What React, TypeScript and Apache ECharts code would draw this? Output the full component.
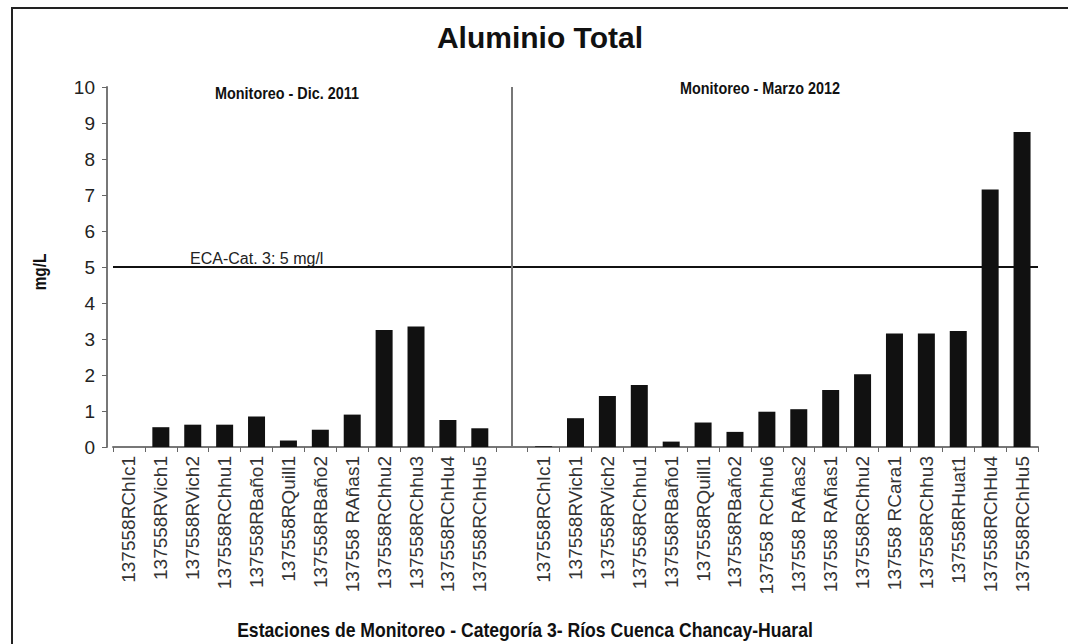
import React, { useEffect, useRef } from "react";
import * as echarts from "echarts";

const dec2011Stations = [
  "137558RChIc1", "137558RVich1", "137558RVich2", "137558RChhu1", "137558RBaño1", "137558RQuill1",
  "137558RBaño2", "137558 RAñas1", "137558RChhu2", "137558RChhu3", "137558RChHu4", "137558RChHu5",
];
const dec2011Values = [0, 0.55, 0.62, 0.62, 0.85, 0.18, 0.48, 0.9, 3.25, 3.35, 0.75, 0.52];

const mar2012Stations = [
  "137558RChIc1", "137558RVich1", "137558RVich2", "137558RChhu1", "137558RBaño1", "137558RQuill1",
  "137558RBaño2", "137558 RChhu6", "137558 RAñas2", "137558 RAñas1", "137558RChhu2", "137558 RCara1",
  "137558RChhu3", "137558RHuat1", "137558RChHu4", "137558RChHu5",
];
const mar2012Values = [0.02, 0.8, 1.42, 1.72, 0.15, 0.68, 0.42, 0.98, 1.05, 1.58, 2.02, 3.15, 3.15, 3.22, 7.15, 8.75];

const yTicks = [0, 1, 2, 3, 4, 5, 6, 7, 8, 9, 10];
const ecaLimit = 5;

const title = "Aluminio Total";
const period1 = "Monitoreo - Dic. 2011";
const period2 = "Monitoreo - Marzo 2012";
const ecaLabel = "ECA-Cat. 3: 5 mg/l";
const yName = "mg/L";
const xName = "Estaciones de Monitoreo - Categoría 3- Ríos Cuenca Chancay-Huaral";

const sans = "'Liberation Sans', Arial, sans-serif";

export default function App() {
  const ref = useRef<HTMLDivElement>(null);
  useEffect(() => {
    if (!ref.current) return;
    const chart = echarts.init(ref.current, undefined, { renderer: "svg" });
    const categories = [...dec2011Stations, "", ...mar2012Stations];
    const values: (number | null)[] = [...dec2011Values, null, ...mar2012Values];
    const dividerIndex = dec2011Stations.length;
    chart.setOption({
      animation: false,
      backgroundColor: "#ffffff",
      title: {
        text: title,
        left: 535,
        textAlign: "center",
        top: 17,
        textStyle: { fontFamily: sans, fontSize: 30, fontWeight: "bold", color: "#111" },
      },
      grid: { left: 113, right: 30, top: 87, bottom: 197, containLabel: false },
      xAxis: {
        type: "category",
        data: categories,
        axisLine: { lineStyle: { color: "#777", width: 2 } },
        axisTick: { show: true, lineStyle: { color: "#666" }, length: 5 },
        axisLabel: {
          rotate: 90,
          interval: 0,
          fontSize: 19,
          fontFamily: sans,
          color: "#333",
          margin: 9,
        },
      },
      yAxis: {
        type: "value",
        min: yTicks[0],
        max: yTicks[yTicks.length - 1],
        interval: 1,
        offset: 6,
        splitLine: { show: false },
        axisLine: { show: true, lineStyle: { color: "#777", width: 2 } },
        axisTick: { show: true, length: 5, lineStyle: { color: "#666" } },
        axisLabel: { fontSize: 19, fontFamily: sans, color: "#222", margin: 12 },
      },
      series: [
        {
          type: "bar",
          data: values,
          barWidth: 17,
          itemStyle: { color: "#111" },
          markLine: {
            silent: true,
            symbol: "none",
            label: { show: false },
            data: [
              { yAxis: ecaLimit, lineStyle: { color: "#111", width: 2, type: "solid" } },
              { xAxis: dividerIndex, lineStyle: { color: "#777", width: 2, type: "solid" } },
            ],
          },
        },
      ],
      graphic: [
        {
          type: "rect",
          shape: { x: 12, y: 8, width: 1070, height: 680 },
          style: { fill: "none", stroke: "#222", lineWidth: 2 },
          silent: true,
        },
        {
          type: "text",
          x: 215,
          y: 85,
          scaleX: 0.9,
          style: { text: period1, font: `bold 16px ${sans}`, fill: "#111" },
        },
        {
          type: "text",
          x: 680,
          y: 80,
          scaleX: 0.9,
          style: { text: period2, font: `bold 16px ${sans}`, fill: "#111" },
        },
        {
          type: "text",
          x: 190,
          y: 250,
          style: { text: ecaLabel, font: `16px ${sans}`, fill: "#222" },
        },
        {
          type: "text",
          x: 40,
          y: 272,
          rotation: Math.PI / 2,
          scaleX: 0.85,
          style: { text: yName, font: `bold 18px ${sans}`, fill: "#111", align: "center", verticalAlign: "middle" },
        },
        {
          type: "text",
          x: 525,
          y: 630,
          scaleX: 0.88,
          style: { text: xName, font: `bold 20px ${sans}`, fill: "#111", align: "center", verticalAlign: "middle" },
        },
      ],
    });
    return () => chart.dispose();
  }, []);
  return (
    <div style={{ position: "fixed", left: 0, top: 0, width: 1068, height: 644, background: "#fff" }}>
      <div ref={ref} style={{ width: 1068, height: 644 }} />
    </div>
  );
}
